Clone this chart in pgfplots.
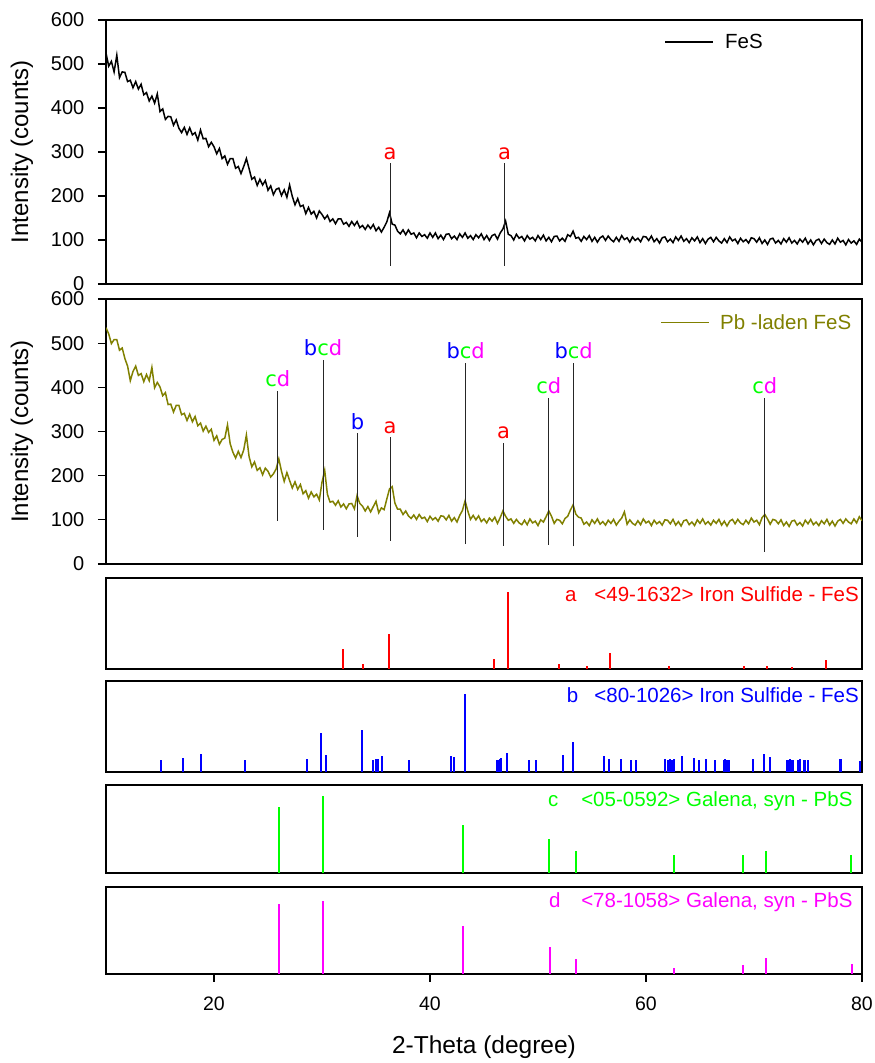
\documentclass[border=0pt]{standalone}
\usepackage{pgfplots}
\pgfplotsset{compat=1.18}
\usepackage{fontspec}
\setmainfont{Liberation Sans}
\newfontfamily\dejavu{DejaVu Sans}
\definecolor{mag}{RGB}{255,0,255}
\definecolor{grn}{RGB}{0,255,0}
\definecolor{blu}{RGB}{0,0,255}
\definecolor{rd}{RGB}{255,0,0}
\definecolor{olv}{RGB}{128,128,0}
\newcommand{\fs}[1]{\fontsize{#1}{#1}\selectfont}
\tikzset{lab/.style={font=\dejavu\fs{21}, anchor=base, yshift=4pt, inner sep=0pt}}
\begin{document}
\begin{tikzpicture}[x=1pt,y=1pt]
\useasboundingbox (0,0) rectangle (875,1063);
\pgfplotsset{
 base/.style={scale only axis, width=756pt, xmin=10, xmax=80, anchor=south west,
   axis line style={line width=1.4pt}, tick style={line width=1.2pt, black},
   major tick length=8pt, tick align=outside,
   /pgf/number format/assume math mode=true,
   yticklabel style={font=\fs{20}, inner sep=0pt, xshift=-13.5pt},
   xticklabel style={font=\fs{19.5}, yshift=-11pt}},
 stick/.style={base, ymin=0, ymax=100, ytick=\empty, xtick=\empty},
 ann/.style={black!85, line width=0.9pt, forget plot},
}
% ---------------- Panel 1: FeS
\begin{axis}[base, at={(106pt,779pt)}, height=264pt, ymin=0, ymax=600,
  ytick={0,100,...,600}, ytick pos=left, xtick=\empty]
\addplot[black, line width=1.5pt] coordinates {
(10,525)(10.25,495)(10.5,506)(10.75,482)(11,520)(11.25,469)(11.5,482)(11.75,481)(12,460)(12.25,463)(12.5,446)(12.75,460)(13,443)(13.25,454)(13.5,430)(13.75,435)(14,416)(14.25,427)(14.5,411)(14.75,432)(15,392)(15.25,398)(15.5,374)(15.75,381)(16,380)(16.25,361)(16.5,373)(16.75,354)(17,344)(17.25,356)(17.5,340)(17.75,355)(18,339)(18.25,344)(18.5,327)(18.75,350)(19,330)(19.25,331)(19.5,312)(19.75,322)(20,312)(20.25,296)(20.5,308)(20.75,285)(21,291)(21.25,272)(21.5,285)(21.75,285)(22,263)(22.25,267)(22.5,251)(22.75,267)(23,285)(23.25,262)(23.5,238)(23.75,243)(24,224)(24.25,238)(24.5,225)(24.75,235)(25,213)(25.25,223)(25.5,203)(25.75,215)(26,218)(26.25,201)(26.5,214)(26.75,197)(27,225)(27.25,199)(27.5,180)(27.75,194)(28,176)(28.25,179)(28.5,160)(28.75,174)(29,159)(29.25,165)(29.5,150)(29.75,166)(30,158)(30.25,148)(30.5,156)(30.75,142)(31,148)(31.25,137)(31.5,148)(31.75,148)(32,136)(32.25,140)(32.5,131)(32.75,142)(33,133)(33.25,142)(33.5,128)(33.75,133)(34,124)(34.25,134)(34.5,126)(34.75,135)(35,121)(35.25,129)(35.5,118)(35.75,129)(36,141)(36.25,162)(36.5,136)(36.75,134)(37,120)(37.25,114)(37.5,123)(37.75,112)(38,123)(38.25,113)(38.5,116)(38.75,105)(39,116)(39.25,108)(39.5,112)(39.75,104)(40,116)(40.25,106)(40.5,116)(40.75,103)(41,111)(41.25,101)(41.5,113)(41.75,114)(42,103)(42.25,109)(42.5,101)(42.75,114)(43,106)(43.25,116)(43.5,104)(43.75,110)(44,101)(44.25,112)(44.5,105)(44.75,114)(45,101)(45.25,110)(45.5,99)(45.75,110)(46,113)(46.25,102)(46.5,116)(46.75,125)(47,143)(47.25,113)(47.5,110)(47.75,100)(48,113)(48.25,104)(48.5,108)(48.75,98)(49,110)(49.25,102)(49.5,106)(49.75,98)(50,110)(50.25,101)(50.5,111)(50.75,98)(51,106)(51.25,96)(51.5,108)(51.75,109)(52,98)(52.25,104)(52.5,97)(52.75,112)(53,108)(53.25,120)(53.5,104)(53.75,106)(54,97)(54.25,108)(54.5,101)(54.75,110)(55,97)(55.25,106)(55.5,95)(55.75,105)(56,109)(56.25,99)(56.5,109)(56.75,101)(57,96)(57.25,106)(57.5,97)(57.75,110)(58,101)(58.25,105)(58.5,95)(58.75,107)(59,99)(59.25,104)(59.5,96)(59.75,108)(60,107)(60.25,99)(60.5,109)(60.75,96)(61,103)(61.25,93)(61.5,105)(61.75,107)(62,96)(62.25,102)(62.5,94)(62.75,107)(63,99)(63.25,109)(63.5,97)(63.75,103)(64,94)(64.25,105)(64.5,98)(64.75,107)(65,94)(65.25,103)(65.5,92)(65.75,102)(66,106)(66.25,96)(66.5,106)(66.75,98)(67,93)(67.25,103)(67.5,94)(67.75,107)(68,98)(68.25,102)(68.5,92)(68.75,104)(69,96)(69.25,101)(69.5,93)(69.75,105)(70,103)(70.25,95)(70.5,105)(70.75,92)(71,100)(71.25,90)(71.5,102)(71.75,104)(72,93)(72.25,99)(72.5,91)(72.75,103)(73,95)(73.25,105)(73.5,93)(73.75,99)(74,91)(74.25,102)(74.5,95)(74.75,104)(75,91)(75.25,100)(75.5,89)(75.75,99)(76,102)(76.25,92)(76.5,102)(76.75,94)(77,90)(77.25,100)(77.5,91)(77.75,104)(78,95)(78.25,99)(78.5,89)(78.75,101)(79,93)(79.25,98)(79.5,90)(79.75,102)(80,95)
};
\addplot[ann] coordinates {(36.3,42) (36.3,274)};
\addplot[ann] coordinates {(46.9,42) (46.9,274)};
\node[lab, text=rd] at (axis cs:36.3,274) {a};
\node[lab, text=rd] at (axis cs:46.9,274) {a};
\end{axis}
% ---------------- Panel 2: Pb-laden FeS
\begin{axis}[base, at={(106pt,499pt)}, height=265pt, ymin=0, ymax=600,
  ytick={0,100,...,600}, ytick pos=left, xtick=\empty]
\addplot[olv, line width=1.5pt] coordinates {
(10,535)(10.25,521)(10.5,499)(10.75,508)(11,508)(11.25,484)(11.5,489)(11.75,465)(12,448)(12.25,415)(12.5,436)(12.75,448)(13,427)(13.25,431)(13.5,413)(13.75,429)(14,415)(14.25,445)(14.5,399)(14.75,411)(15,401)(15.25,381)(15.5,388)(15.75,361)(16,362)(16.25,344)(16.5,359)(16.75,359)(17,338)(17.25,341)(17.5,325)(17.75,339)(18,322)(18.25,334)(18.5,313)(18.75,319)(19,301)(19.25,312)(19.5,298)(19.75,305)(20,280)(20.25,290)(20.5,271)(20.75,282)(21,285)(21.25,315)(21.5,272)(21.75,253)(22,240)(22.25,255)(22.5,241)(22.75,258)(23,292)(23.25,243)(23.5,220)(23.75,231)(24,212)(24.25,218)(24.5,202)(24.75,217)(25,210)(25.25,197)(25.5,204)(25.75,215)(26,238)(26.25,210)(26.5,187)(26.75,207)(27,189)(27.25,172)(27.5,186)(27.75,169)(28,180)(28.25,159)(28.5,166)(28.75,149)(29,163)(29.25,152)(29.5,158)(29.75,145)(30,185)(30.25,212)(30.5,158)(30.75,140)(31,142)(31.25,133)(31.5,143)(31.75,129)(32,136)(32.25,125)(32.5,136)(32.75,137)(33,125)(33.25,155)(33.5,137)(33.75,131)(34,120)(34.25,130)(34.5,118)(34.75,130)(35,142)(35.25,116)(35.5,127)(35.75,123)(36,147)(36.25,170)(36.5,175)(36.75,138)(37,124)(37.25,124)(37.5,112)(37.75,120)(38,109)(38.25,103)(38.5,111)(38.75,101)(39,112)(39.25,103)(39.5,106)(39.75,96)(40,108)(40.25,100)(40.5,105)(40.75,97)(41,109)(41.25,108)(41.5,100)(41.75,110)(42,97)(42.25,105)(42.5,95)(42.75,110)(43,121)(43.25,143)(43.5,120)(43.75,101)(44,110)(44.25,100)(44.5,109)(44.75,96)(45,102)(45.25,93)(45.5,104)(45.75,97)(46,106)(46.25,92)(46.5,105)(46.75,120)(47,108)(47.25,99)(47.5,102)(47.75,92)(48,101)(48.25,93)(48.5,89)(48.75,99)(49,89)(49.25,102)(49.5,93)(49.75,97)(50,87)(50.25,100)(50.5,95)(50.75,107)(51,120)(51.25,108)(51.5,92)(51.75,101)(52,99)(52.25,91)(52.5,103)(52.75,108)(53,122)(53.25,134)(53.5,113)(53.75,106)(54,104)(54.25,90)(54.5,95)(54.75,87)(55,100)(55.25,92)(55.5,102)(55.75,90)(56,96)(56.25,88)(56.5,99)(56.75,92)(57,101)(57.25,88)(57.5,97)(57.75,104)(58,118)(58.25,90)(58.5,100)(58.75,92)(59,88)(59.25,98)(59.5,89)(59.75,102)(60,93)(60.25,97)(60.5,87)(60.75,99)(61,91)(61.25,96)(61.5,88)(61.75,100)(62,99)(62.25,91)(62.5,101)(62.75,88)(63,96)(63.25,86)(63.5,98)(63.75,100)(64,89)(64.25,95)(64.5,87)(64.75,100)(65,92)(65.25,102)(65.5,90)(65.75,96)(66,88)(66.25,99)(66.5,92)(66.75,101)(67,88)(67.25,97)(67.5,86)(67.75,97)(68,101)(68.25,91)(68.5,101)(68.75,93)(69,89)(69.25,99)(69.5,91)(69.75,104)(70,95)(70.25,99)(70.5,89)(70.75,105)(71,112)(71.25,102)(71.5,90)(71.75,101)(72,99)(72.25,91)(72.5,100)(72.75,87)(73,95)(73.25,85)(73.5,97)(73.75,99)(74,88)(74.25,94)(74.5,86)(74.75,99)(75,91)(75.25,101)(75.5,89)(75.75,95)(76,87)(76.25,98)(76.5,91)(76.75,101)(77,88)(77.25,97)(77.5,86)(77.75,97)(78,101)(78.25,92)(78.5,102)(78.75,95)(79,91)(79.25,102)(79.5,93)(79.75,107)(80,98)
};
\addplot[ann] coordinates {(25.9,98) (25.9,392)};
\addplot[ann] coordinates {(30.1,78) (30.1,463)};
\addplot[ann] coordinates {(33.3,62) (33.3,296)};
\addplot[ann] coordinates {(36.3,53) (36.3,287)};
\addplot[ann] coordinates {(43.3,45) (43.3,456)};
\addplot[ann] coordinates {(46.8,41) (46.8,275)};
\addplot[ann] coordinates {(51.0,44) (51.0,376)};
\addplot[ann] coordinates {(53.3,40) (53.3,456)};
\addplot[ann] coordinates {(71.0,28) (71.0,376)};
\node[lab] at (axis cs:25.9,392) {\textcolor{grn}{c}\textcolor{mag}{d}};
\node[lab] at (axis cs:30.1,463) {\textcolor{blu}{b}\textcolor{grn}{c}\textcolor{mag}{d}};
\node[lab, text=blu] at (axis cs:33.3,296) {b};
\node[lab, text=rd] at (axis cs:36.3,287) {a};
\node[lab] at (axis cs:43.3,456) {\textcolor{blu}{b}\textcolor{grn}{c}\textcolor{mag}{d}};
\node[lab, text=rd] at (axis cs:46.8,275) {a};
\node[lab] at (axis cs:51.0,376) {\textcolor{grn}{c}\textcolor{mag}{d}};
\node[lab] at (axis cs:53.3,456) {\textcolor{blu}{b}\textcolor{grn}{c}\textcolor{mag}{d}};
\node[lab] at (axis cs:71.0,376) {\textcolor{grn}{c}\textcolor{mag}{d}};
\end{axis}
% ---------------- Panel a
\begin{axis}[stick, at={(106pt,394pt)}, height=91pt]
\addplot[ycomb, rd, line width=2pt] coordinates {
(31.9,22)(33.8,6)(36.2,39)(45.9,11)(47.2,85)(51.9,5)(54.5,3)(56.7,18)(62.1,3)(69.1,3)(71.2,3)(73.5,2)(76.7,10)};
\end{axis}
% ---------------- Panel b
\begin{axis}[stick, at={(106pt,291pt)}, height=91pt]
\addplot[ycomb, blu, line width=2pt] coordinates {
(15.1,13)(17.1,15)(18.8,20)(22.9,13)(28.6,14)(29.9,43)(30.4,19)(33.7,46)(34.7,13)(35.0,14)(35.2,14)(35.6,18)(38.1,13)(41.9,18)(42.2,17)(43.2,86)(46.2,13)(46.35,13)(46.5,14)(46.6,15)(47.1,21)(49.2,13)(49.8,13)(52.3,19)(53.2,33)(56.1,18)(56.6,14)(57.7,14)(58.6,13)(59.1,13)(61.8,14)(62.0,13)(62.2,14)(62.4,13)(62.6,14)(63.3,18)(64.4,15)(64.9,13)(65.6,14)(66.4,13)(67.2,13)(67.35,14)(67.5,13)(67.7,13)(69.9,14)(70.9,20)(71.5,16)(73.1,13)(73.2,13)(73.3,14)(73.45,13)(73.6,13)(74.1,13)(74.3,14)(74.6,13)(74.7,13)(75.0,13)(78.0,14)(78.1,14)(79.8,12)};
\end{axis}
% ---------------- Panel c
\begin{axis}[stick, at={(106pt,190pt)}, height=88pt]
\addplot[ycomb, grn, line width=2pt] coordinates {
(26.0,75)(30.1,87)(43.1,55)(51.0,39)(53.5,25)(62.6,20)(68.95,20)(71.1,25)(79.0,20)};
\end{axis}
% ---------------- Panel d
\begin{axis}[stick, at={(106pt,89pt)}, height=87pt,
  xtick={20,40,60,80}, xtick pos=bottom]
\addplot[ycomb, mag, line width=2pt] coordinates {
(26.0,80)(30.1,84)(43.1,55)(51.1,31)(53.5,17)(62.6,7)(69.0,10)(71.1,18)(79.1,12)};
\end{axis}
% ---------------- texts
\node[rotate=90, font=\fs{24}] at (22,911) {Intensity (counts)};
\node[rotate=90, font=\fs{24}] at (22,631.5) {Intensity (counts)};
\node[font=\fs{24.5}] at (484,16) {2-Theta (degree)};
\draw[black, line width=1.2pt] (665,1021) -- (713,1021);
\node[anchor=base west, inner sep=0pt, font=\fs{20.5}] at (725,1014.7) {FeS};
\draw[olv, line width=1.2pt] (661,740.7) -- (709,740.7);
\node[anchor=base west, inner sep=0pt, font=\fs{20.5}, text=olv] at (720,733) {Pb -laden FeS};
\node[anchor=base west, inner sep=0pt, font=\fs{20.5}, text=rd] at (565,461) {a};
\node[anchor=base east, inner sep=0pt, font=\fs{20.5}, text=rd] at (859,461) {<49-1632> Iron Sulfide - FeS};
\node[anchor=base west, inner sep=0pt, font=\fs{20.5}, text=blu] at (566.7,360.3) {b};
\node[anchor=base east, inner sep=0pt, font=\fs{20.5}, text=blu] at (859,360.3) {<80-1026> Iron Sulfide - FeS};
\node[anchor=base west, inner sep=0pt, font=\fs{20.5}, text=grn] at (548,256) {c};
\node[anchor=base east, inner sep=0pt, font=\fs{20.5}, text=grn] at (852.7,256) {<05-0592> Galena, syn - PbS};
\node[anchor=base west, inner sep=0pt, font=\fs{20.5}, text=mag] at (549,155) {d};
\node[anchor=base east, inner sep=0pt, font=\fs{20.5}, text=mag] at (852.7,155) {<78-1058> Galena, syn - PbS};
\end{tikzpicture}
\end{document}
